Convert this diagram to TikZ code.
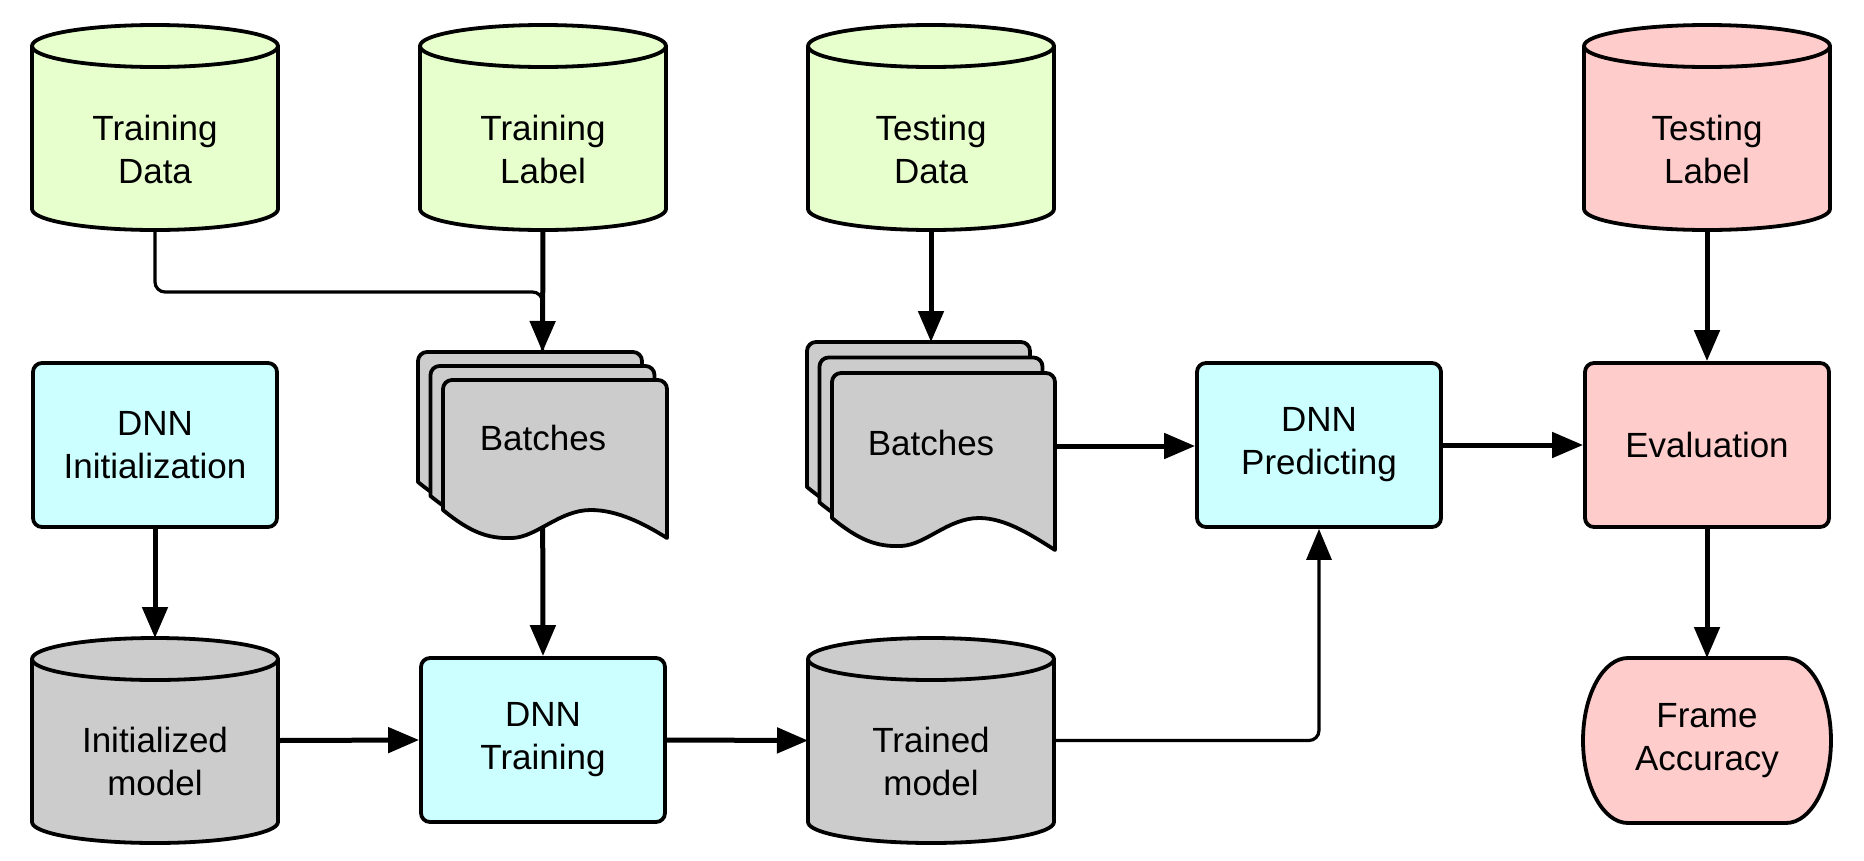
\documentclass[tikz,border=0pt]{standalone}
\usepackage{fontspec}
\setmainfont{Liberation Sans}
\usetikzlibrary{arrows.meta,calc,backgrounds}
\definecolor{cgreen}{HTML}{E6FFCC}
\definecolor{ccyan}{HTML}{CCFFFF}
\definecolor{cpink}{HTML}{FFCCCC}
\definecolor{cgray}{HTML}{CCCCCC}
\tikzset{
  lbl/.style={font=\fontsize{35pt}{43pt}\selectfont, align=center, inner sep=0pt},
  shapeline/.style={draw=black, line width=3.8pt, line join=round},
  holder/.style={shape=rectangle, inner sep=0pt, outer sep=0pt, minimum width=246pt, minimum height=205pt},
  procbox/.style={shapeline, rounded corners=9pt, minimum width=244pt, minimum height=164pt, inner sep=0pt, lbl},
  tipA/.style={-{Triangle[length=31pt,width=25pt]}},
  conn/.style={line width=5pt, tipA},
  thinconn/.style={line width=3.2pt},
}
\newcommand\mycylshape[2]{%
  \path[shapeline, fill=#2] ($(#1.north west)+(0,21)$) -- ($(#1.south west)+(0,-21)$)
    arc[start angle=180,end angle=360,x radius=123pt,y radius=21pt]
    -- ($(#1.north east)+(0,21)$)
    arc[start angle=0,end angle=180,x radius=123pt,y radius=21pt] -- cycle;
  \draw[shapeline] ($(#1.north west)+(0,21)$)
    arc[start angle=180,end angle=360,x radius=123pt,y radius=21pt];
}
\newcommand\mysheet[6]{%
  \pgfmathsetmacro\shW{#3-#1}%
  \path[shapeline, fill=#6] (#1,#4) -- (#1,#2+9)
    arc[start angle=180,end angle=90,radius=9pt] -- (#3-9,#2)
    arc[start angle=90,end angle=0,radius=9pt] -- (#3,#5)
    .. controls (#3-0.1*\shW,#5-14) and (#1+0.78*\shW,#4) .. (#1+0.66*\shW,#4)
    .. controls (#1+0.52*\shW,#4) and (#1+0.42*\shW,#4+27) .. (#1+0.31*\shW,#4+28)
    .. controls (#1+0.2*\shW,#4+29) and (#1+0.12*\shW,#4+22) .. (#1,#4) -- cycle;
}
\begin{document}
\begin{tikzpicture}[x=1pt,y=-1pt]
\useasboundingbox (0,0) rectangle (1864,860);

% ---- top row cylinders
\node[holder] (td) at (155,127.5) {};
\mycylshape{td}{cgreen}
\node[lbl] (tdt) at (155,149) {Training\\Data};

\node[holder] (tl) at (543,127.5) {};
\mycylshape{tl}{cgreen}
\node[lbl] (tlt) at (543,149) {Training\\Label};

\node[holder] (tsd) at (931,127.5) {};
\mycylshape{tsd}{cgreen}
\node[lbl] (tsdt) at (931,149) {Testing\\Data};

\node[holder] (tsl) at (1707,127.5) {};
\mycylshape{tsl}{cpink}
\node[lbl] (tslt) at (1707,149) {Testing\\Label};

% ---- middle row
\node[procbox, fill=ccyan] (di) at (155,445) {DNN\\Initialization};

\mysheet{418}{352}{642}{482}{510}{cgray}
\mysheet{430.5}{366}{654.5}{496}{524}{cgray}
\mysheet{443}{380}{667}{510}{538}{cgray}
\node[shape=rectangle, inner sep=0pt, outer sep=0pt, minimum width=249pt, minimum height=186pt] (b1) at (542.5,445) {};
\node[lbl] (b1t) at (543,438) {Batches};

\mysheet{807}{342}{1030}{487}{519}{cgray}
\mysheet{819.5}{357.5}{1042.5}{502.5}{534.5}{cgray}
\mysheet{832}{373}{1055}{518}{550}{cgray}
\node[shape=rectangle, inner sep=0pt, outer sep=0pt, minimum width=248pt, minimum height=208pt] (b2) at (931,446) {};
\node[lbl] (b2t) at (931,443) {Batches};

\node[procbox, fill=ccyan] (dp) at (1319,445) {DNN\\Predicting};
\node[procbox, fill=cpink] (ev) at (1707,445) {Evaluation};

% ---- bottom row
\node[holder] (im) at (155,740.5) {};
\mycylshape{im}{cgray}
\node[lbl] (imt) at (155,761.5) {Initialized\\model};

\node[procbox, fill=ccyan] (dt) at (543,740) {DNN\\Training};

\node[holder] (tm) at (931,740.5) {};
\mycylshape{tm}{cgray}
\node[lbl] (tmt) at (931,761.5) {Trained\\model};

\node[shape=rectangle, inner sep=0pt, outer sep=0pt, minimum width=248pt, minimum height=165pt] (fa) at (1707,740.5) {};
\path[shapeline, fill=cpink] ($(fa.north west)+(45,0)$) -- ($(fa.north east)+(-45,0)$)
  arc[start angle=90,end angle=-90,x radius=45pt,y radius=82.5pt]
  -- ($(fa.south west)+(45,0)$)
  arc[start angle=270,end angle=90,x radius=45pt,y radius=82.5pt] -- cycle;
\node[lbl] (fat) at (1707,740.5) {Frame\\Accuracy};

% ---- connectors
\begin{pgfonlayer}{background}
\draw[thinconn, rounded corners=10pt] (td.south) |- ([yshift=60pt]b1.north) -- (b1.north);
\draw[conn] (tl.south) -- (b1.north);
\draw[conn] (tsd.south) -- (b2.north);
\draw[conn] (tsl.south) -- (ev.north);
\draw[conn] (di.south) -- (im.north);
\draw[conn] (b1.center) -- (dt.north);
\draw[conn] (im.east) -- (dt.west);
\draw[conn] (dt.east) -- (tm.west);
\draw[thinconn, tipA, rounded corners=10pt] (tm.east) -| (dp.south);
\draw[conn] (b2.east) -- (b2.east -| dp.west);
\draw[conn] (dp.east) -- (ev.west);
\draw[conn] (ev.south) -- (fa.north);
\end{pgfonlayer}
\end{tikzpicture}
\end{document}
